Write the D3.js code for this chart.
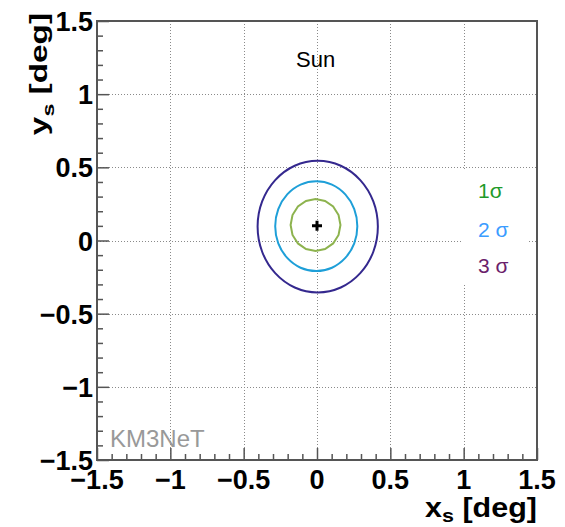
<!DOCTYPE html>
<html>
<head>
<meta charset="utf-8">
<script src="https://cdn.jsdelivr.net/npm/d3@7"></script>
<style>
html,body{margin:0;padding:0;background:#fff;}
svg{display:block;font-family:"Liberation Sans",Arial,Helvetica,sans-serif;}
</style>
</head>
<body>
<svg id="chart" width="565" height="527"></svg>
<script>
// ---- data ----
const xTicks = [-1.5, -1, -0.5, 0, 0.5, 1, 1.5];
const yTicks = [-1.5, -1, -0.5, 0, 0.5, 1, 1.5];
const xTickLabels = ["\u22121.5", "\u22121", "\u22120.5", "0", "0.5", "1", "1.5"];
const yTickLabels = ["\u22121.5", "\u22121", "\u22120.5", "0", "0.5", "1", "1.5"];
const gridValues = [-1, -0.5, 0, 0.5, 1];
const sunPosition = [0, 0.1];
const contour1 = [[-0.01,0.284],[0.055,0.270],[0.110,0.232],[0.147,0.174],[0.16,0.106],[0.147,0.038],[0.110,-0.020],[0.055,-0.058],[-0.01,-0.072],[-0.075,-0.058],[-0.130,-0.020],[-0.167,0.038],[-0.18,0.106],[-0.167,0.174],[-0.130,0.232],[-0.075,0.270]];
const contour2 = [[-0.005,0.405],[0.102,0.382],[0.193,0.315],[0.254,0.215],[0.275,0.098],[0.254,-0.019],[0.193,-0.119],[0.102,-0.186],[-0.005,-0.209],[-0.112,-0.186],[-0.203,-0.119],[-0.264,-0.019],[-0.285,0.098],[-0.264,0.215],[-0.203,0.315],[-0.112,0.382]];
const contour3 = [[0.005,0.545],[0.162,0.511],[0.295,0.413],[0.384,0.267],[0.415,0.095],[0.384,-0.077],[0.295,-0.223],[0.162,-0.321],[0.005,-0.355],[-0.152,-0.321],[-0.285,-0.223],[-0.374,-0.077],[-0.405,0.095],[-0.374,0.267],[-0.285,0.413],[-0.152,0.511]];
const contourNames = ["1\u03c3", "2 \u03c3", "3 \u03c3"];
const contourColors = ["#8db34e", "#1e9fd8", "#34288e"];
const legendColors = ["#1f9a2a", "#3b9cff", "#6b1f6b"];

// ---- layout ----
const L = 97, R = 537, T = 21, B = 460;
const svg = d3.select("#chart");
svg.append("rect").attr("width",565).attr("height",527).attr("fill","#fff");

const x = d3.scaleLinear().domain([-1.5, 1.5]).range([L, R]);
const y = d3.scaleLinear().domain([-1.5, 1.5]).range([B, T]);

// grid
const grid = svg.append("g").attr("stroke","#8a8a8a").attr("stroke-width",1).attr("stroke-dasharray","1,2");
grid.selectAll("line.gx").data(gridValues).join("line")
  .attr("x1", d => Math.round(x(d))+0.5).attr("x2", d => Math.round(x(d))+0.5)
  .attr("y1", T).attr("y2", B);
grid.selectAll("line.gy").data(gridValues).join("line")
  .attr("y1", d => Math.round(y(d))+0.5).attr("y2", d => Math.round(y(d))+0.5)
  .attr("x1", L).attr("x2", R);

// axes (ticks inward)
const minorX = d3.range(-15, 16).map(i => i/10);
const axisCol = "#555";
const xAxis = d3.axisBottom(x).tickValues(minorX).tickSize(-6).tickFormat("");
const gx = svg.append("g").attr("transform", `translate(0,${B})`).call(xAxis);
gx.selectAll(".tick line").attr("stroke", axisCol).attr("stroke-width",1.5)
  .attr("y2", d => (Math.abs(d*2 - Math.round(d*2)) < 1e-6) ? -12 : -6);
gx.select(".domain").remove();
const yAxis = d3.axisLeft(y).tickValues(minorX).tickSize(-6).tickFormat("");
const gy = svg.append("g").attr("transform", `translate(${L},0)`).call(yAxis);
gy.selectAll(".tick line").attr("stroke", axisCol).attr("stroke-width",1.5)
  .attr("x2", d => (Math.abs(d*2 - Math.round(d*2)) < 1e-6) ? 12 : 6);
gy.select(".domain").remove();

// frame
svg.append("rect").attr("x",L).attr("y",T).attr("width",R-L).attr("height",B-T)
  .attr("fill","none").attr("stroke","#555").attr("stroke-width",2);

// tick labels
svg.append("g").selectAll("text").data(xTicks).join("text")
  .attr("x", d => x(d)).attr("y", 489)
  .attr("text-anchor","middle").attr("font-weight","bold").attr("font-size",27).attr("fill","#000")
  .text((d,i) => xTickLabels[i]);
svg.append("g").selectAll("text").data(yTicks).join("text")
  .attr("x", 93).attr("y", d => y(d) + 10)
  .attr("text-anchor","end").attr("font-weight","bold").attr("font-size",27).attr("fill","#000")
  .text((d,i) => yTickLabels[i]);

// axis titles
const xt = svg.append("text").attr("text-anchor","end").attr("font-weight","bold").attr("font-size",27)
  .attr("transform","translate(537,517) scale(1.13,1)");
xt.append("tspan").text("x");
xt.append("tspan").attr("font-size",19).attr("dy",5).text("s");
xt.append("tspan").attr("dy",-5).text(" [deg]");

const yt = svg.append("text").attr("text-anchor","end").attr("font-weight","bold").attr("font-size",23)
  .attr("transform","translate(47,13) rotate(-90) scale(1.45,1)");
yt.append("tspan").text("y");
yt.append("tspan").attr("font-size",16).attr("dy",7).text("s");
yt.append("tspan").attr("dy",-7).text(" [deg]");

// contours
const line = d3.line().x(d => x(d[0])).y(d => y(d[1])).curve(d3.curveCatmullRomClosed);
const lineLin = d3.line().x(d => x(d[0])).y(d => y(d[1])).curve(d3.curveLinearClosed);
const contours = [contour1, contour2, contour3];
svg.append("g").selectAll("path").data(contours).join("path")
  .attr("d", (d,i) => i === 0 ? lineLin(d) : line(d))
  .attr("fill","none").attr("stroke",(d,i) => contourColors[i]).attr("stroke-width",2);

// sun marker
const cx = x(sunPosition[0]), cy = y(sunPosition[1]);
svg.append("path").attr("d", `M${cx-5},${cy}H${cx+5}M${cx},${cy-5}V${cy+5}`)
  .attr("stroke","#000").attr("stroke-width",3);

// legend
svg.append("rect").attr("x",462).attr("y",170).attr("width",65).attr("height",113).attr("fill","#fff");
svg.append("g").selectAll("text").data(contourNames).join("text")
  .attr("x",478).attr("y",(d,i) => [198, 237, 273][i])
  .attr("font-size",21).attr("fill",(d,i) => legendColors[i]).text(d => d);

// labels
svg.append("text").attr("x",296).attr("y",67).attr("font-size",22).attr("fill","#000").text("Sun");
svg.append("text").attr("x",110).attr("y",447).attr("font-size",24).attr("fill","#999").text("KM3NeT");
</script>
</body>
</html>
